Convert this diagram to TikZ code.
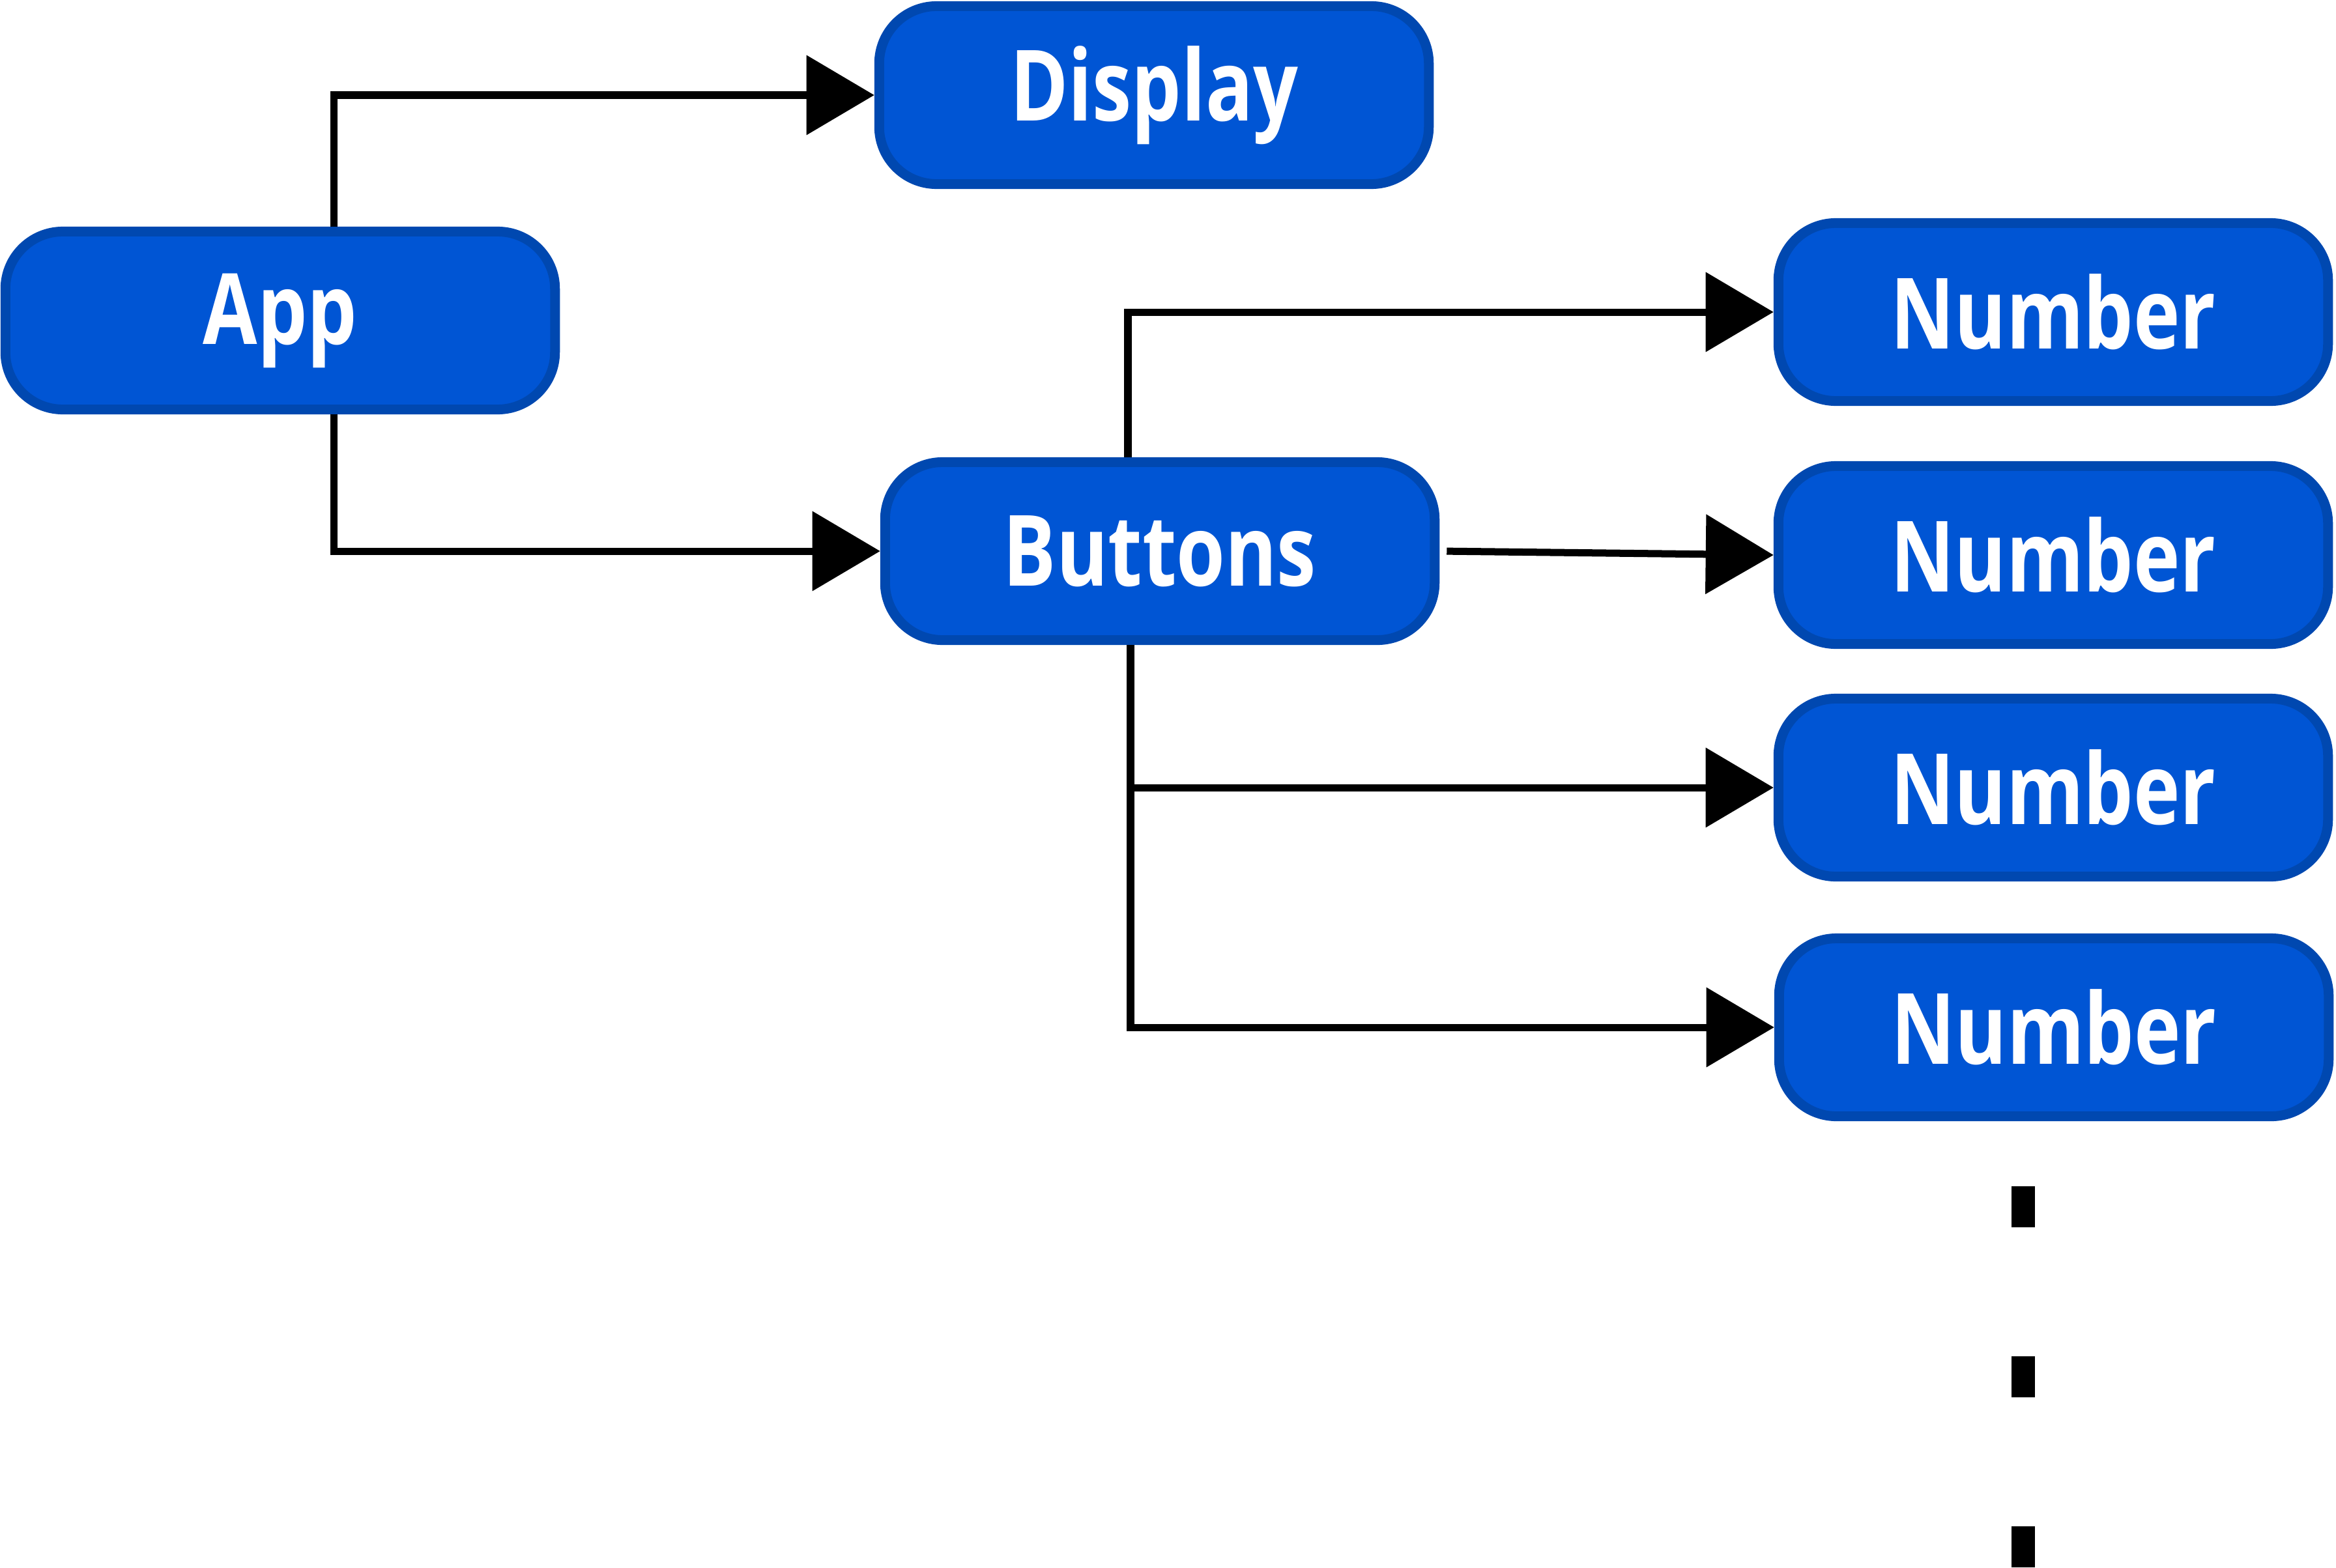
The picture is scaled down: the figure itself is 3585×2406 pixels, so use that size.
\documentclass[tikz,border=0pt]{standalone}
\usepackage{fontspec}
\setmainfont{Open Sans}
\usepackage{graphicx}
\usepackage{tikz}
\usetikzlibrary{arrows.meta}
\definecolor{compblue}{RGB}{0,85,212}
\definecolor{compedge}{RGB}{0,72,176}
\newcommand{\comptext}[1]{\scalebox{0.8}[1]{#1}}
\tikzset{
  comp/.style={draw=compedge, line width=0.15cm, fill=compblue,
    rounded corners=0.88cm, minimum width=8.43cm, minimum height=2.73cm,
    text=white, font=\fontsize{43}{50}\selectfont\bfseries, inner sep=0pt},
  link/.style={draw=black, line width=0.11cm,
    -{Triangle[length=1.04cm, width=1.2cm]}}
}

\begin{document}
\begin{tikzpicture}[x=0.01cm, y=-0.01cm]

  \useasboundingbox (0,0) rectangle (3585,2406);

  % Components
  \node[comp] (app) at (430,492) {\comptext{App}};
  \node[comp] (display) at (1771,146) {\comptext{Display}};
  \node[comp] (buttons) at (1780,846) {\comptext{Buttons}};
  \node[comp] (num1) at (3151,479) {\comptext{Number}};
  \node[comp] (num2) at (3151,852) {\comptext{Number}};
  \node[comp] (num3) at (3151,1209) {\comptext{Number}};
  \node[comp] (num4) at (3152,1577) {\comptext{Number}};

  % App children
  \draw[link] ([xshift=0.82cm]app.north) |- (display.west);
  \draw[link] ([xshift=0.82cm]app.south) |- (buttons.west);

  % Buttons children
  \draw[link] ([xshift=-0.49cm]buttons.north) |- (num1.west);
  \draw[link, shorten <=0.11cm] (buttons.east) -- (num2.west);
  \draw[link] ([xshift=-0.45cm]buttons.south) |- (num3.west);
  \draw[link] ([xshift=-0.45cm]buttons.south) |- (num4.west);

  % More numbers
  \draw[line width=0.36cm, dash pattern=on 0.63cm off 1.98cm]
    (3105,1821) -- (3105,2406);

\end{tikzpicture}
\end{document}
